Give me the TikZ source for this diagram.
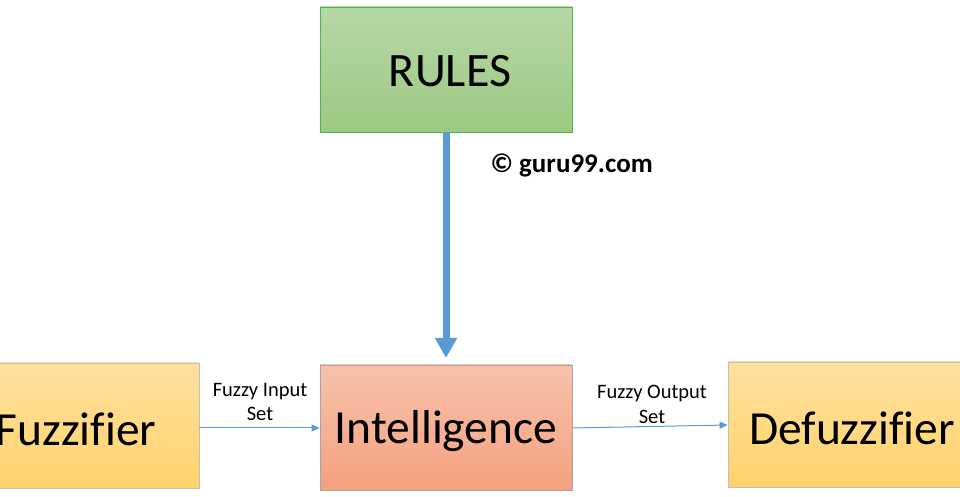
\documentclass[tikz,border=0pt]{standalone}
\usepackage{fontspec}
\setmainfont{Carlito}[Ligatures=NoCommon]
\usetikzlibrary{arrows.meta}
\definecolor{arrowblue}{HTML}{5B9BD5}
\begin{document}
\begin{tikzpicture}[x=1pt,y=1pt,
  box/.style={draw=#1, line width=0.8pt, minimum height=125pt, inner sep=0pt},
  big/.style={font=\fontsize{47.5}{52}\selectfont},
  small/.style={font=\fontsize{20.5}{24.5}\selectfont, align=center},
  thin/.style={draw=arrowblue, line width=1pt, -{Triangle[length=8pt,width=7pt]}}]
\useasboundingbox (0,0) rectangle (960,497);
\clip (0,0) rectangle (960,497);
% RULES
\node[box=green!45!gray,  minimum width=252pt,
  top color={rgb,255:red,182;green,215;blue,166}, bottom color={rgb,255:red,157;green,201;blue,131}]
  (rules) at (446,427.5) {};
\node[font=\fontsize{48}{52}\selectfont] (rulest) at (450,426) {RULES};
% Intelligence
\node[box=gray!70, minimum width=252pt,
  top color={rgb,255:red,248;green,193;blue,171}, bottom color={rgb,255:red,244;green,161;blue,126}]
  (intel) at (446,69.5) {};
\node[big] (intelt) at (446,66) {Intelligence};
% Fuzzifier
\node[box=gray!50, minimum width=254pt,
  top color={rgb,255:red,255;green,224;blue,158}, bottom color={rgb,255:red,255;green,211;blue,107}]
  (fuzz) at (72,71.5) {};
\node[big] (fuzzt) at (76,68) {Fuzzifier};
% Defuzzifier
\node[box=gray!50, minimum width=254pt,
  top color={rgb,255:red,255;green,224;blue,158}, bottom color={rgb,255:red,255;green,211;blue,107}]
  (defuzz) at (855,72.5) {};
\node[big] (defuzzt) at (852,69) {Defuzzifier};
% thick arrow
\draw[arrowblue, line width=7pt, -{Triangle[length=20pt,width=21pt]}] (rules.south) -- (446,139);
% thin arrows
\draw[thin] (fuzz.east |- 0,69) -- (intel.west |- 0,69);
\draw[thin] (intel.east |- 0,69) -- (defuzz.west |- 0,72);
% labels
\node[small] (lin) at (260,95) {Fuzzy Input\\Set};
\node[small] (lout) at (652,92.5) {Fuzzy Output\\Set};
\node[font=\fontsize{27}{31}\selectfont\bfseries, anchor=west] (copy) at (487,332) {© guru99.com};
\end{tikzpicture}
\end{document}
